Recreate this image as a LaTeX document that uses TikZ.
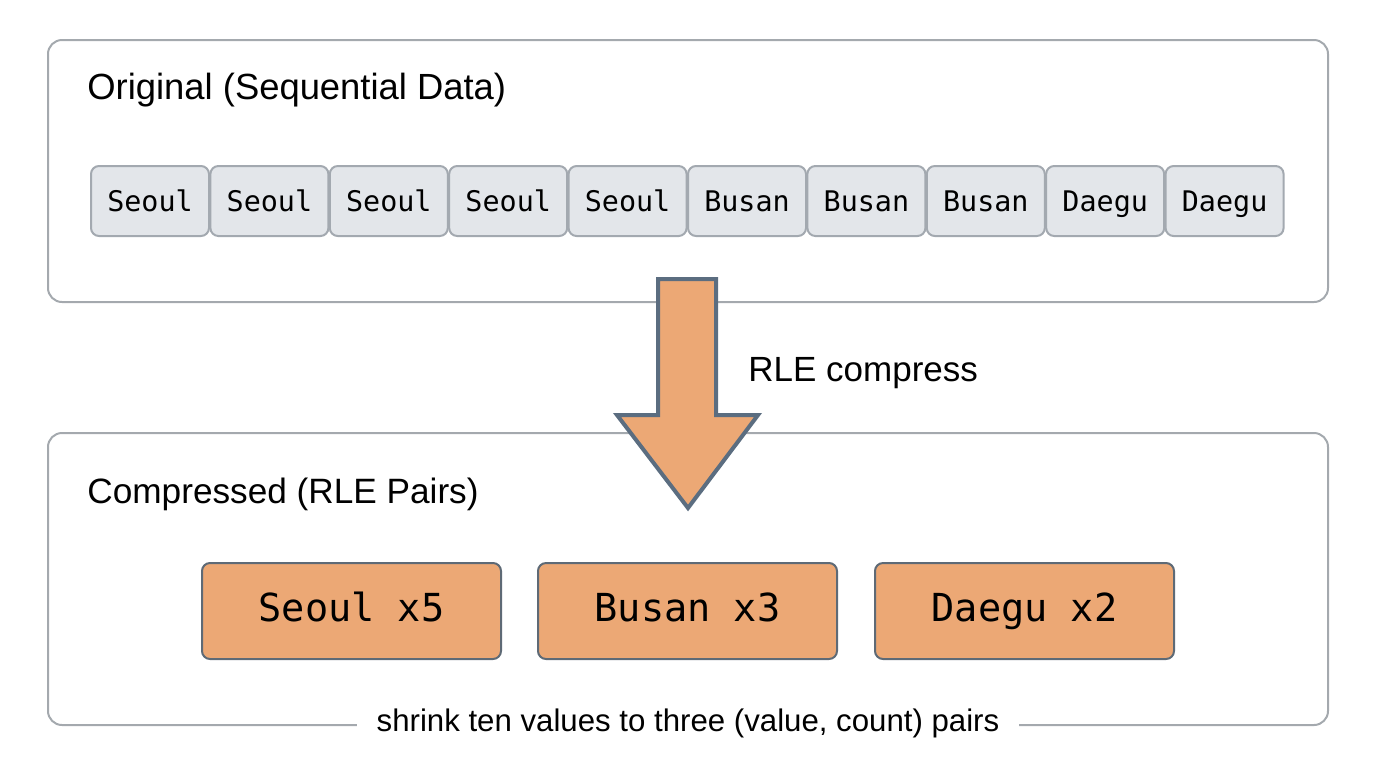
\documentclass[tikz,border=0pt]{standalone}
\usepackage{fontspec}
\setmainfont{Liberation Sans}
\newfontfamily\cellfont{DejaVu Sans Mono}
\usetikzlibrary{positioning}

\definecolor{framegray}{RGB}{164,169,174}
\definecolor{cellfill}{RGB}{227,230,234}
\definecolor{celledge}{RGB}{163,169,176}
\definecolor{rleorange}{RGB}{236,168,117}
\definecolor{slateedge}{RGB}{91,109,128}
\definecolor{pairedge}{RGB}{94,106,118}

\begin{document}
\begin{tikzpicture}[x=0.5pt,y=-0.5pt,
  frame/.style={draw=framegray,line width=1pt,rounded corners=7pt},
  cell/.style={draw=celledge,fill=cellfill,line width=1pt,rounded corners=4pt,
    minimum width=59pt,minimum height=35pt,inner sep=0pt,
    text height=1em,text depth=0pt,
    font=\cellfont\fontsize{14.2}{16}\selectfont},
  pairbox/.style={draw=pairedge,fill=rleorange,line width=1pt,rounded corners=4pt,
    minimum width=149.5pt,minimum height=48pt,inner sep=0pt,
    text height=1.05em,text depth=0pt,
    font=\cellfont\fontsize{19.3}{22}\selectfont},
  title/.style={anchor=west,inner sep=0pt,font=\fontsize{18.2}{21}\selectfont}]
\useasboundingbox (0,0) rectangle (1376,768);

%Shape: top frame
\draw [frame] (48,40) rectangle (1328,302);
% Text Node
\node [title] (origtitle) at (87,90) {Original (Sequential Data)};

% sequence cells
\foreach \name [count=\i from 0] in {Seoul,Seoul,Seoul,Seoul,Seoul,Busan,Busan,Busan,Daegu,Daegu}
  \node [cell] (cell\i) at (150+119.4*\i,201) {\name};

%Shape: bottom frame
\draw [frame] (48,433) rectangle (1328,725);
% Text Node
\node [title,font=\fontsize{17.6}{21}\selectfont] (comptitle) at (87,494) {Compressed (RLE Pairs)};

%Shape: big arrow
\draw [fill=rleorange,draw=slateedge,line width=2pt,line join=miter]
  (658,279) -- (716,279) -- (716,415) -- (758,415) -- (688,508) -- (617,415) -- (658,415) -- cycle;
% Text Node
\node [anchor=west,inner sep=0pt,font=\fontsize{17.5}{20}\selectfont] (rlelabel) at (748,373) {RLE compress};

% RLE pairs
\node [pairbox] (pair1) at (351.5,611) {Seoul x5};
\node [pairbox] (pair2) at (687.5,611) {Busan x3};
\node [pairbox] (pair3) at (1024.5,611) {Daegu x2};

% Text Node
\node [fill=white,inner xsep=10pt,inner ysep=2pt,font=\fontsize{15.6}{18}\selectfont] (caption) at (688,723) {shrink ten values to three (value, count) pairs};

\end{tikzpicture}
\end{document}
